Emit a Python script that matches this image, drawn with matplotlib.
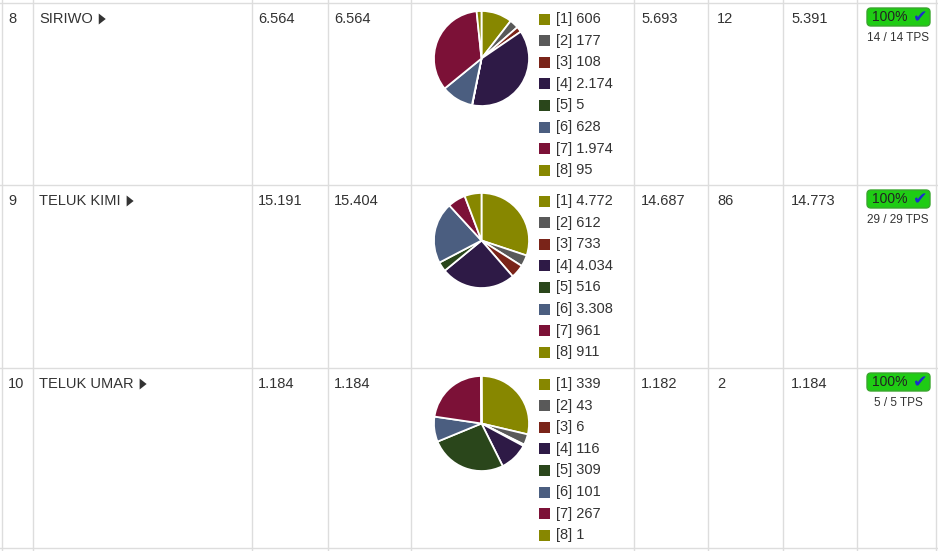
import matplotlib
matplotlib.use("Agg")
import matplotlib.pyplot as plt
from matplotlib.patches import FancyBboxPatch, Polygon

plt.rcParams['font.family'] = ['Liberation Sans', 'DejaVu Sans']

W, H = 938, 551

row_numbers = ["8", "9", "10"]
names = ["SIRIWO", "TELUK KIMI", "TELUK UMAR"]
col_a = ["6.564", "15.191", "1.184"]
col_b = ["6.564", "15.404", "1.184"]
col_c = ["5.693", "14.687", "1.182"]
col_d = ["12", "86", "2"]
col_e = ["5.391", "14.773", "1.184"]
percent = ["100%", "100%", "100%"]
tps = ["14 / 14 TPS", "29 / 29 TPS", "5 / 5 TPS"]

labels = ["[1]", "[2]", "[3]", "[4]", "[5]", "[6]", "[7]", "[8]"]
values_siriwo = [606, 177, 108, 2174, 5, 628, 1974, 95]
values_teluk_kimi = [4772, 612, 733, 4034, 516, 3308, 961, 911]
values_teluk_umar = [339, 43, 6, 116, 309, 101, 267, 1]
value_text_siriwo = ["606", "177", "108", "2.174", "5", "628", "1.974", "95"]
value_text_teluk_kimi = ["4.772", "612", "733", "4.034", "516", "3.308", "961", "911"]
value_text_teluk_umar = ["339", "43", "6", "116", "309", "101", "267", "1"]

pie_values = [values_siriwo, values_teluk_kimi, values_teluk_umar]
pie_texts = [value_text_siriwo, value_text_teluk_kimi, value_text_teluk_umar]

colors = ['#878700', '#595959', '#7a2419', '#2e1a46', '#2a461b',
          '#4b5e80', '#7c1137', '#878700']

row_tops = [2.5, 184.5, 367.5]
row_bottom = 548
col_lines = [2, 33, 252, 328, 411, 634, 708, 783, 857, 936]

fig = plt.figure(figsize=(W / 100, H / 100), dpi=100)
ax = fig.add_axes([0, 0, 1, 1])
ax.set_xlim(0, W)
ax.set_ylim(H, 0)
ax.axis('off')

grid = '#dddddd'
for y in row_tops + [row_bottom]:
    ax.plot([0, W], [y, y], color=grid, lw=1)
for x in col_lines:
    ax.plot([x, x], [0, H], color=grid, lw=1)

tc = '#333333'
fs = 10.5
fig.canvas.draw()
renderer = fig.canvas.get_renderer()

for i in range(3):
    top = row_tops[i]
    ty = top + 16.5
    ax.text(8, ty, row_numbers[i], fontsize=fs, color=tc, va='center', ha='left')
    t = ax.text(39, ty, names[i], fontsize=fs, color=tc, va='center', ha='left')
    bb = t.get_window_extent(renderer)
    x_end = bb.x1
    tx = x_end + 6
    ax.add_patch(Polygon([[tx, ty - 5.5], [tx, ty + 5.5], [tx + 7, ty]], closed=True,
                         color='#333333', lw=0))
    ax.text(258, ty, col_a[i], fontsize=fs, color=tc, va='center', ha='left')
    ax.text(334, ty, col_b[i], fontsize=fs, color=tc, va='center', ha='left')
    ax.text(641, ty, col_c[i], fontsize=fs, color=tc, va='center', ha='left')
    ax.text(717, ty, col_d[i], fontsize=fs, color=tc, va='center', ha='left')
    ax.text(791, ty, col_e[i], fontsize=fs, color=tc, va='center', ha='left')

    for k in range(8):
        ly = ty + k * 21.6
        ax.add_patch(plt.Rectangle((539, ly - 5.5), 11, 11, color=colors[k], lw=0))
        ax.text(556, ly, f"{labels[k]} {pie_texts[i][k]}", fontsize=fs, color=tc,
                va='center', ha='left')

    ax.add_patch(FancyBboxPatch((867, top + 5.5), 63, 18,
                                boxstyle="round,pad=0,rounding_size=4",
                                facecolor='#1fcc14', edgecolor='#3aa62e', lw=1))
    ax.text(890, top + 14.5, percent[i], fontsize=10, color='#222222',
            va='center', ha='center')
    ax.text(920, top + 14.5, "\u2714", fontsize=12.5, color='#1a2ecc',
            va='center', ha='center', family='DejaVu Sans')
    ax.text(898, top + 35.5, tps[i], fontsize=8.5, color=tc, va='center', ha='center')

    cx, cy, r = 481.5, top + 56, 48.5
    pax = fig.add_axes([(cx - r) / W, 1 - (cy + r) / H, 2 * r / W, 2 * r / H])
    pax.pie(pie_values[i], colors=colors, startangle=90, counterclock=False,
            wedgeprops=dict(edgecolor='white', linewidth=1.3))
    pax.set_xlim(-1.02, 1.02)
    pax.set_ylim(-1.02, 1.02)
    pax.set_aspect('auto')
    pax.axis('off')

fig.savefig('out.png', dpi=100)
